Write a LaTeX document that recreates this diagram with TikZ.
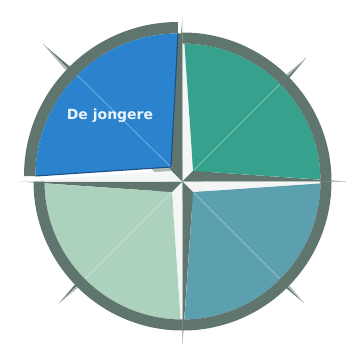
\documentclass[tikz,border=0pt]{standalone}
\usepackage{fontspec}
\newfontfamily\labelfont{DejaVu Sans}
\definecolor{ringc}{HTML}{5F756E}
\definecolor{lightc}{HTML}{F4F6F5}
\definecolor{needlelight}{HTML}{AEB9B5}
\definecolor{qblue}{HTML}{2B83CD}
\definecolor{qteal}{HTML}{36A18D}
\definecolor{qsteel}{HTML}{5C9FAF}
\definecolor{qgreen}{HTML}{ACD1BD}
\definecolor{navy}{HTML}{1E4F85}
\definecolor{txtc}{HTML}{E8F3FB}
\begin{document}
\begin{tikzpicture}[x=1pt,y=1pt,
  darkpart/.style={fill=ringc},
  lightpart/.style={fill=lightc},
  needlepart/.style={fill=needlelight},
  faint/.style={draw=white,draw opacity=0.35,line width=0.8pt},
  labeltext/.style={font=\labelfont\bfseries\fontsize{14}{16}\selectfont,text=txtc,inner sep=0pt}]
\fill[white] (-182.5,-174.5) rectangle (172.5,181.5);
\useasboundingbox (-182.5,-174.5) rectangle (172.5,181.5);
% diagonal needles
\fill[darkpart] (0,0) -- (45:175) -- (0:20) -- cycle;
\fill[needlepart] (0,0) -- (45:175) -- (90:20) -- cycle;
\fill[darkpart] (0,0) -- (-45:172) -- (-90:20) -- cycle;
\fill[needlepart] (0,0) -- (-45:172) -- (0:20) -- cycle;
\fill[darkpart] (0,0) -- (-123.5,-121.8) -- (180:20) -- cycle;
\fill[needlepart] (0,0) -- (-123.5,-121.8) -- (-90:20) -- cycle;
\fill[darkpart] (0,0) -- (-139.5,137.5) -- (90:20) -- cycle;
\fill[needlepart] (0,0) -- (-139.5,137.5) -- (180:20) -- cycle;
% main star
\fill[darkpart] (0,0) -- (0,167) -- (135:15) -- cycle;
\fill[lightpart] (0,0) -- (0,167) -- (45:15) -- cycle;
\fill[darkpart] (0,0) -- (163,0) -- (45:15) -- cycle;
\fill[lightpart] (0,0) -- (163,0) -- (-45:15) -- cycle;
\fill[darkpart] (0,0) -- (0,-162) -- (-45:15) -- cycle;
\fill[lightpart] (0,0) -- (0,-162) -- (-135:15) -- cycle;
\fill[darkpart] (0,0) -- (-163,0) -- (-135:15) -- cycle;
\fill[lightpart] (0,0) -- (-163,0) -- (135:15) -- cycle;
% dark backing right of the raised quadrant
\fill[darkpart] (0,0) -- (135:15) -- (-11.5,14.5) -- (-4.5,148) -- (0,148) -- cycle;
% coloured quadrants
\fill[qteal] (45:15) -- (89.2:138) arc[start angle=89.2,end angle=0.8,radius=138] -- cycle;
\fill[qsteel] (-45:15) -- (-0.8:138) arc[start angle=-0.8,end angle=-89.2,radius=138] -- cycle;
\fill[qgreen] (-135:15) -- (-90.8:138) arc[start angle=-90.8,end angle=-179.2,radius=138] -- cycle;
\draw[faint] (45:16) -- (45:138);
\draw[faint] (-45:16) -- (-45:138);
\draw[faint] (-135:16) -- (-135:138);
% rings
\fill[darkpart] (0:138) arc[start angle=0,end angle=90,radius=138] -- (90:149) arc[start angle=90,end angle=0,radius=149] -- cycle;
\fill[darkpart] (-90:138) arc[start angle=-90,end angle=0,radius=138] -- (0:149) arc[start angle=0,end angle=-90,radius=149] -- cycle;
\fill[darkpart] (180:138) arc[start angle=180,end angle=270,radius=138] -- (270:149) arc[start angle=270,end angle=180,radius=149] -- cycle;
% raised quadrant
\begin{scope}[shift={(-4.5,5.5)}]
  \fill[darkpart] (90:142.5) arc[start angle=90,end angle=180,radius=142.5] -- (180:154) arc[start angle=180,end angle=90,radius=154] -- cycle;
  \fill[qblue] (-7,9) -- (90:142.5) arc[start angle=90,end angle=180,radius=142.5] -- cycle;
  \draw[faint] (-6,8) -- (135:142.5);
  \draw[navy,line width=1.1pt,line join=round] (90:142.5) -- (-7,9) -- (180:142.5);
\end{scope}
\node[labeltext] (label) at (-72.5,66) {De jongere};
\end{tikzpicture}
\end{document}
